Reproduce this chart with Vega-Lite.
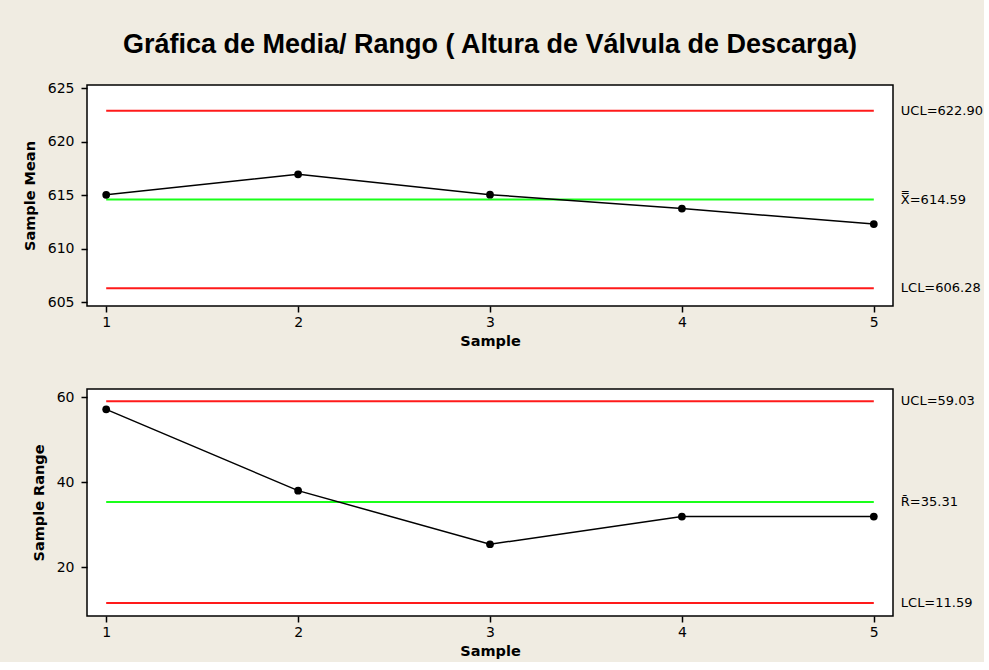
{
  "$schema": "https://vega.github.io/schema/vega-lite/v6.json",
  "background": "#F0ECE2",
  "padding": {"left": 21, "top": 30, "right": 0, "bottom": 3},
  "spacing": 39,
  "datasets": {
    "means": [
      {"sample": 1, "value": 615.03},
      {"sample": 2, "value": 616.95},
      {"sample": 3, "value": 615.05},
      {"sample": 4, "value": 613.75},
      {"sample": 5, "value": 612.3}
    ],
    "ranges": [
      {"sample": 1, "value": 57.1},
      {"sample": 2, "value": 38.0},
      {"sample": 3, "value": 25.4},
      {"sample": 4, "value": 31.9},
      {"sample": 5, "value": 31.9}
    ],
    "meanLimits": [
      {"kind": "limit", "value": 622.90, "label": "UCL=622.90"},
      {"kind": "center", "value": 614.59, "label": "X̿=614.59"},
      {"kind": "limit", "value": 606.28, "label": "LCL=606.28"}
    ],
    "rangeLimits": [
      {"kind": "limit", "value": 59.03, "label": "UCL=59.03"},
      {"kind": "center", "value": 35.31, "label": "R̄=35.31"},
      {"kind": "limit", "value": 11.59, "label": "LCL=11.59"}
    ]
  },
  "config": {
    "view": {"fill": "white", "stroke": "black", "strokeWidth": 1.5},
    "axis": {
      "grid": false,
      "domain": false,
      "tickColor": "black",
      "tickSize": 6,
      "tickWidth": 1.5,
      "labelFont": "DejaVu Sans",
      "labelFontSize": 14,
      "labelColor": "black",
      "titleFont": "DejaVu Sans",
      "titleFontSize": 14.5,
      "titleFontWeight": "bold",
      "titleColor": "black"
    },
    "axisX": {"labelPadding": 3, "titlePadding": 5},
    "axisY": {"labelPadding": 7, "titlePadding": 10}
  },
  "vconcat": [
    {
      "width": 806,
      "height": 221,
      "title": {
        "text": "Gráfica de Media/ Rango ( Altura de Válvula de Descarga)",
        "frame": "group",
        "anchor": "middle",
        "font": "Liberation Sans",
        "fontSize": 27,
        "fontWeight": "bold",
        "color": "black",
        "offset": 22
      },
      "layer": [
        {
          "data": {"name": "meanLimits"},
          "mark": {"type": "rule", "strokeWidth": 2},
          "encoding": {
            "x": {"datum": 1, "type": "quantitative"},
            "x2": {"datum": 5},
            "y": {"field": "value", "type": "quantitative"},
            "color": {"field": "kind", "type": "nominal", "scale": {"domain": ["limit", "center"], "range": ["#FF1A1A", "#1AFF1A"]}, "legend": null}
          }
        },
        {
          "data": {"name": "means"},
          "mark": {"type": "line", "color": "black", "strokeWidth": 1.5, "point": {"filled": true, "size": 60, "color": "black", "opacity": 1}},
          "encoding": {
            "x": {"field": "sample", "type": "quantitative", "scale": {"domain": [0.9, 5.1], "nice": false, "zero": false}, "axis": {"values": [1, 2, 3, 4, 5], "format": "d", "title": "Sample"}},
            "y": {"field": "value", "type": "quantitative", "scale": {"domain": [604.63, 625.31], "nice": false, "zero": false}, "axis": {"values": [605, 610, 615, 620, 625], "title": "Sample Mean"}}
          }
        },
        {
          "data": {"name": "meanLimits"},
          "mark": {"type": "text", "align": "left", "baseline": "middle", "dx": 27, "font": "DejaVu Sans", "fontSize": 13, "color": "black"},
          "encoding": {
            "x": {"datum": 5, "type": "quantitative"},
            "y": {"field": "value", "type": "quantitative"},
            "text": {"field": "label"}
          }
        }
      ]
    },
    {
      "width": 806,
      "height": 227,
      "layer": [
        {
          "data": {"name": "rangeLimits"},
          "mark": {"type": "rule", "strokeWidth": 2},
          "encoding": {
            "x": {"datum": 1, "type": "quantitative"},
            "x2": {"datum": 5},
            "y": {"field": "value", "type": "quantitative"},
            "color": {"field": "kind", "type": "nominal", "scale": {"domain": ["limit", "center"], "range": ["#FF1A1A", "#1AFF1A"]}, "legend": null}
          }
        },
        {
          "data": {"name": "ranges"},
          "mark": {"type": "line", "color": "black", "strokeWidth": 1.5, "point": {"filled": true, "size": 60, "color": "black", "opacity": 1}},
          "encoding": {
            "x": {"field": "sample", "type": "quantitative", "scale": {"domain": [0.9, 5.1], "nice": false, "zero": false}, "axis": {"values": [1, 2, 3, 4, 5], "format": "d", "title": "Sample"}},
            "y": {"field": "value", "type": "quantitative", "scale": {"domain": [8.54, 61.88], "nice": false, "zero": false}, "axis": {"values": [20, 40, 60], "title": "Sample Range"}}
          }
        },
        {
          "data": {"name": "rangeLimits"},
          "mark": {"type": "text", "align": "left", "baseline": "middle", "dx": 27, "font": "DejaVu Sans", "fontSize": 13, "color": "black"},
          "encoding": {
            "x": {"datum": 5, "type": "quantitative"},
            "y": {"field": "value", "type": "quantitative"},
            "text": {"field": "label"}
          }
        }
      ]
    }
  ]
}
